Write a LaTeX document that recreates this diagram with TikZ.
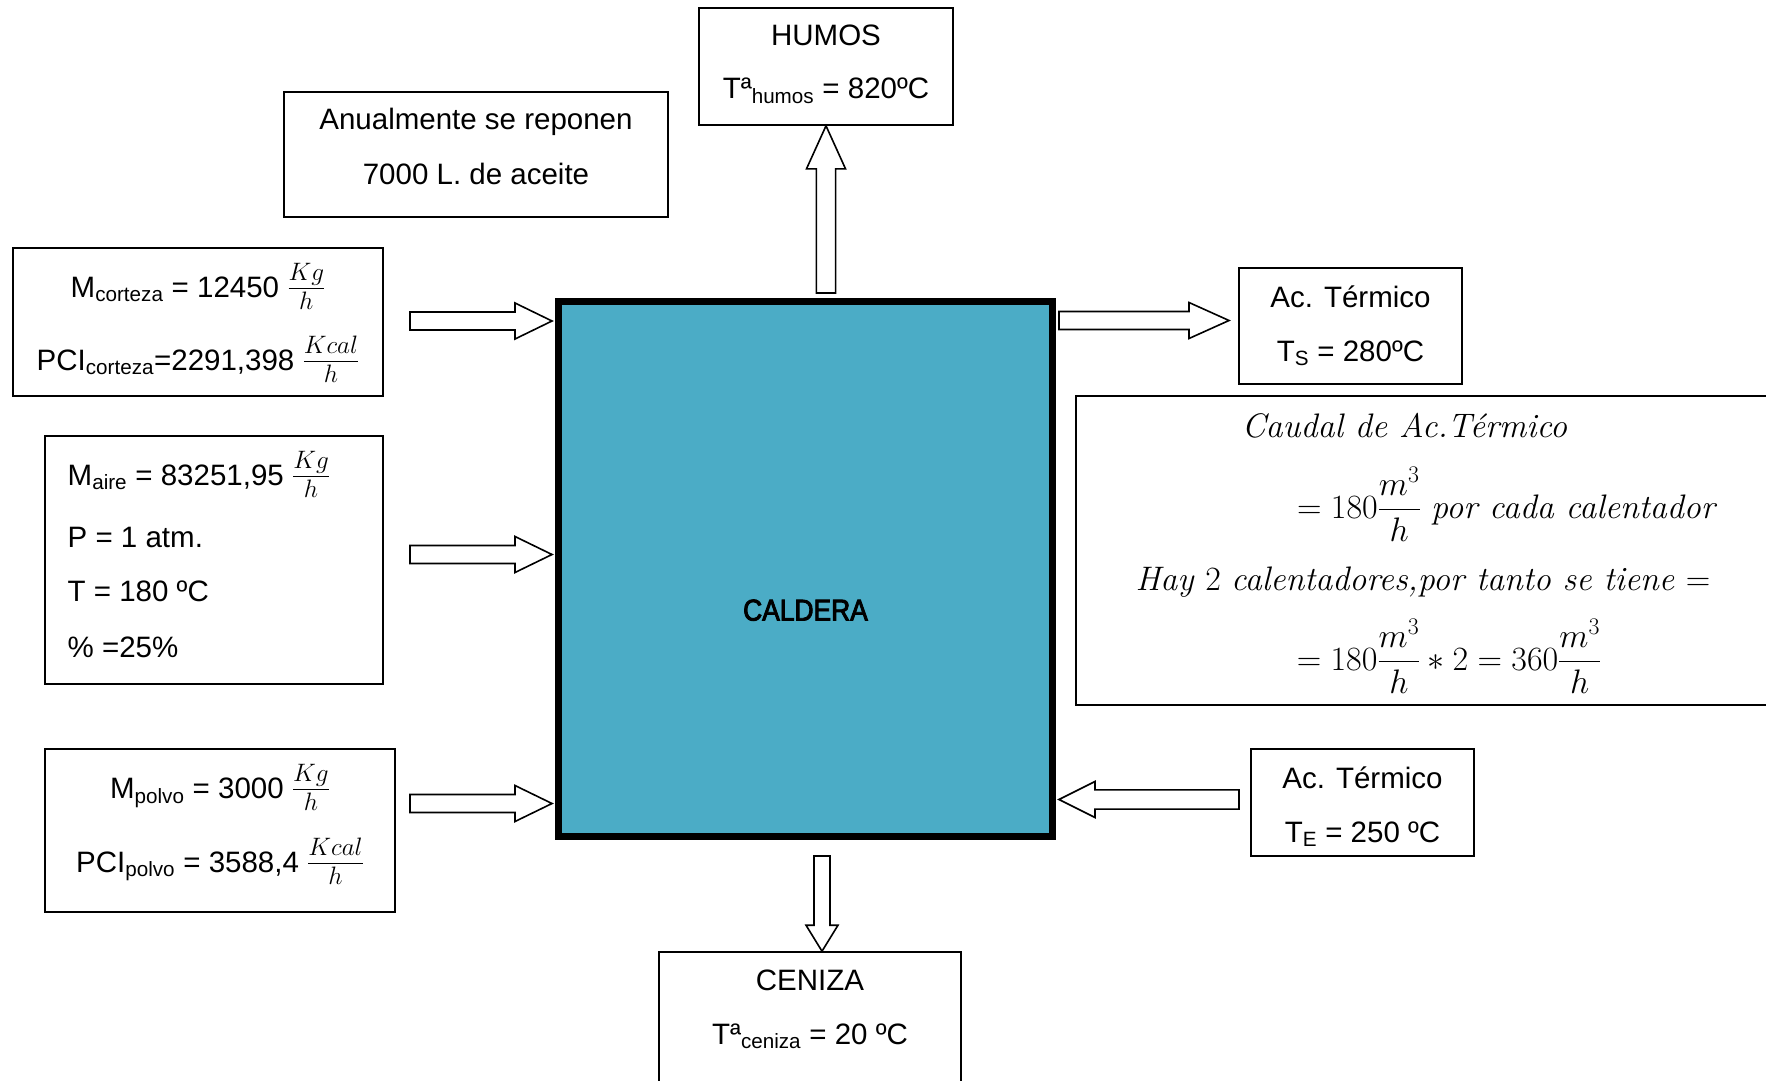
\RequirePackage{fix-cm}
\documentclass[tikz,border=0pt]{standalone}
\usepackage{amsmath}
\usepackage{fontspec}
\newfontfamily\arialf{Liberation Sans}
\newfontfamily\arialsemi{Liberation Sans}[FakeBold=3, FakeStretch=0.88]
\usetikzlibrary{calc}
\definecolor{calblue}{HTML}{4BACC6}
\newcommand{\fr}[2]{{\fontsize{36}{42}\selectfont$\frac{#1\mathstrut}{\mathstrut #2}$}}
\tikzset{
  box/.style={draw=black, line width=1.6pt, fill=white, rectangle, inner sep=0pt},
  txt/.style={font=\arialf\fontsize{29.5}{35}\selectfont, inner sep=0pt, anchor=base},
  ltxt/.style={txt, anchor=base west},
  mtxt/.style={font=\fontsize{34}{40}\selectfont, inner sep=0pt, anchor=base},
  blockarr/.style={draw=black, line width=1.6pt, fill=white, line join=miter},
  calbox/.style={draw=black, line width=7pt, fill=calblue, rectangle, inner sep=0pt},
}
% #1 start, #2 tip, #3 shaft half width, #4 head half width, #5 head length
\newcommand{\barrow}[5]{%
  \coordinate (hb) at ($(#2)!#5!(#1)$);
  \draw[blockarr] ($(#1)!#3!90:(#2)$) -- ($(hb)!#3!90:(#2)$) -- ($(hb)!#4!90:(#2)$)
    -- (#2) -- ($(hb)!#4!-90:(#2)$) -- ($(hb)!#3!-90:(#2)$) -- ($(#1)!#3!-90:(#2)$) -- cycle;
}
\begin{document}
\begin{tikzpicture}[x=1pt,y=-1pt]
\useasboundingbox (0,0) rectangle (1766,1081);
\clip (0,0) rectangle (1766,1081);
\fill[white] (0,0) rectangle (1766,1081);

% boxes
\node[box, minimum width=254pt, minimum height=117pt] (humos) at (826,66.5) {};
\node[box, minimum width=384pt, minimum height=125pt] (anual) at (476,154.5) {};
\node[box, minimum width=370pt, minimum height=148pt] (cort) at (198,322) {};
\node[box, minimum width=338pt, minimum height=248pt] (aire) at (214,560) {};
\node[box, minimum width=350pt, minimum height=163pt] (polvo) at (220,830.5) {};
\node[box, minimum width=302pt, minimum height=140pt] (ceniza) at (810,1022) {};
\node[box, minimum width=223pt, minimum height=116pt] (ts) at (1350.5,326) {};
\node[box, minimum width=700pt, minimum height=309pt] (caudal) at (1426,550.5) {};
\node[box, minimum width=223pt, minimum height=107pt] (te) at (1362.5,802.5) {};
\node[calbox, minimum width=494pt, minimum height=535pt] (cal) at (805.5,569) {};

% texts
\node[txt] (humos1) at (826,46) {HUMOS};
\node[txt] (humos2) at (826,99) {Tª\textsubscript{humos} = 820ºC};
\node[txt] (anual1) at (476,129.5) {Anualmente se reponen};
\node[txt] (anual2) at (476,184.7) {7000 L. de aceite};
\node[txt] (cort1) at (198,297) {M\textsubscript{corteza} = 12450 \fr{Kg}{h}};
\node[txt] (cort2) at (198,370.5) {PCI\textsubscript{corteza}=2291,398 \fr{Kcal}{h}};
\node[ltxt] (aire1) at (67.5,485) {M\textsubscript{aire} = 83251,95 \fr{Kg}{h}};
\node[ltxt] (aire2) at (67.5,547) {P = 1 atm.};
\node[ltxt] (aire3) at (67.5,601) {T = 180 ºC};
\node[ltxt] (aire4) at (67.5,657) {\% =25\%};
\node[txt] (polvo1) at (220,798.5) {M\textsubscript{polvo} = 3000 \fr{Kg}{h}};
\node[txt] (polvo2) at (220,872) {PCI\textsubscript{polvo} = 3588,4 \fr{Kcal}{h}};
\node[txt, font=\arialsemi\fontsize{30}{36}\selectfont] (caltxt) at (805.5,620.5) {CALDERA};
\node[txt] (ceniza1) at (810,990) {CENIZA};
\node[txt] (ceniza2) at (810,1044) {Tª\textsubscript{ceniza} = 20 ºC};
\node[txt] (ts1) at (1350.5,307.5) {Ac. Térmico};
\node[txt] (ts2) at (1350.5,361.5) {T\textsubscript{S} = 280ºC};
\node[txt] (te1) at (1362.5,788) {Ac. Térmico};
\node[txt] (te2) at (1362.5,842.5) {T\textsubscript{E} = 250 ºC};
\node[mtxt] (cau1) at (1404.5,437) {\itshape Caudal de Ac.Térmico};
\node[mtxt] (cau2) at (1506,518) {$=180\dfrac{m^3}{h}$ \itshape por cada calentador};
\node[mtxt] (cau3) at (1423,590) {\itshape Hay \upshape 2 \itshape calentadores,por tanto se tiene \upshape $=$};
\node[mtxt] (cau4) at (1449,670) {$=180\dfrac{m^3}{h}\ast 2=360\dfrac{m^3}{h}$};

% arrows
\coordinate (s1) at (410,321);   \coordinate (t1) at ($(cal.west |- s1)+(-3,0)$);
\coordinate (s2) at (410,554.5); \coordinate (t2) at ($(cal.west |- s2)+(-3,0)$);
\coordinate (s3) at (410,803.5); \coordinate (t3) at ($(cal.west |- s3)+(-3,0)$);
\coordinate (s4) at (826,293);   \coordinate (t4) at (humos.south);
\coordinate (s5) at (822,856);   \coordinate (t5) at (ceniza.north -| s5);
\coordinate (s6) at ($(cal.east |- 0,320.5)+(3,0)$); \coordinate (t6) at (1229,320.5);
\coordinate (s7) at (1239,799.5); \coordinate (t7) at ($(cal.east |- s7)+(3,0)$);
\barrow{s1}{t1}{9pt}{18pt}{37pt}
\barrow{s2}{t2}{9pt}{18pt}{37pt}
\barrow{s3}{t3}{9pt}{18pt}{37pt}
\barrow{s4}{t4}{9.6pt}{19.5pt}{43pt}
\barrow{s5}{t5}{8pt}{16pt}{26pt}
\barrow{s6}{t6}{9pt}{18pt}{40pt}
\barrow{s7}{t7}{9.6pt}{18pt}{36pt}
\end{tikzpicture}
\end{document}
